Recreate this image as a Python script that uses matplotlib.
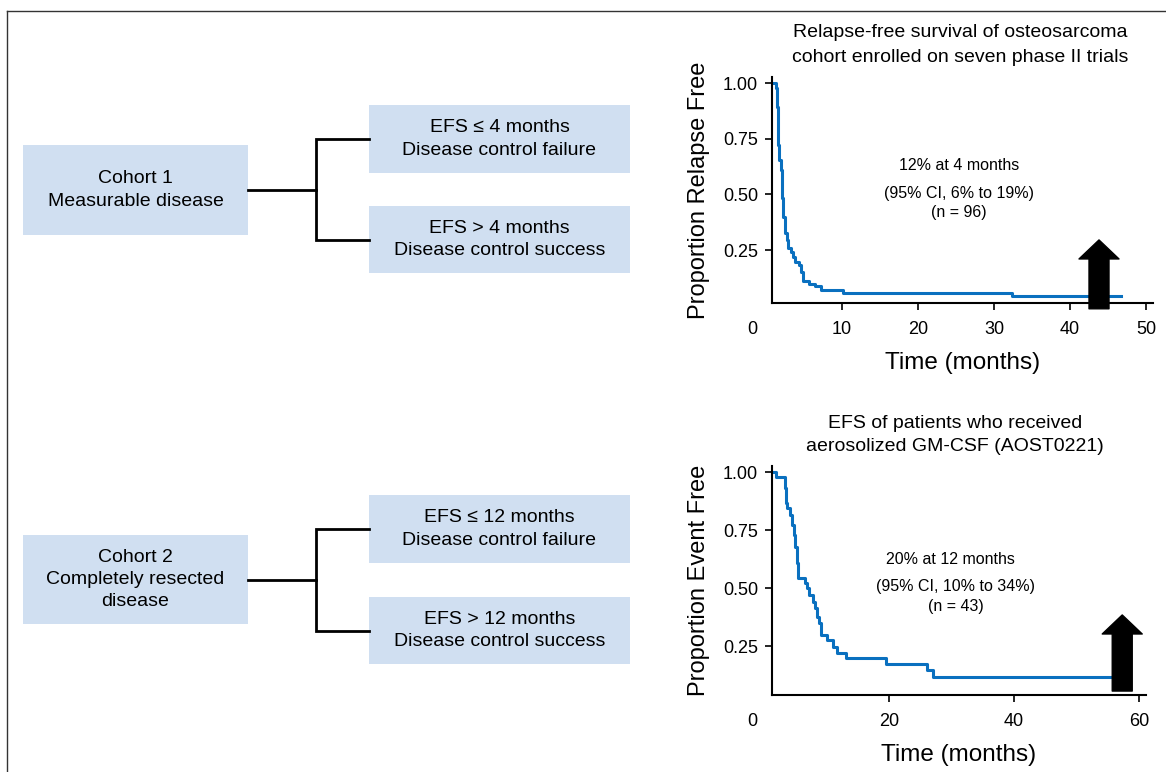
import matplotlib
matplotlib.use("Agg")
import matplotlib.pyplot as plt
from matplotlib.patches import Rectangle

plt.rcParams['font.family'] = ['Liberation Sans', 'DejaVu Sans']

BOX_BLUE = '#d0dff1'
KM_BLUE = '#0a70bf'

# flowchart labels
cohort_labels = ["Cohort 1\nMeasurable disease",
                 "Cohort 2\nCompletely resected\ndisease"]
outcome_labels = [["EFS \u2264 4 months\nDisease control failure",
                   "EFS > 4 months\nDisease control success"],
                  ["EFS \u2264 12 months\nDisease control failure",
                   "EFS > 12 months\nDisease control success"]]

# KM curve, cohort 1 (relapse-free survival, n = 96)
t_top = [0.9, 1.27, 1.4, 1.54, 1.71, 1.93, 2.1, 2.28, 2.45, 2.72, 2.9, 3.25,
         3.5, 3.77, 4.39, 4.65, 4.9, 5.7, 6.45, 7.24, 10.2, 32.3, 46.7]
s_top = [1.0, 0.976, 0.894, 0.722, 0.655, 0.61, 0.484, 0.40, 0.327, 0.296,
         0.26, 0.244, 0.221, 0.199, 0.184, 0.154, 0.113, 0.10, 0.09, 0.072,
         0.057, 0.045, 0.045]

# KM curve, cohort 2 (EFS AOST0221, n = 43)
t_bot = [1.49, 1.87, 3.41, 3.52, 3.73, 4.16, 4.48, 4.8, 5.01, 5.23, 5.49,
         6.56, 6.83, 7.25, 7.79, 8.16, 8.53, 8.85, 9.12, 10.13, 10.99, 11.73,
         13.12, 19.52, 26.13, 27.09, 55.6]
s_bot = [1.0, 0.977, 0.93, 0.866, 0.843, 0.815, 0.772, 0.728, 0.678, 0.606,
         0.542, 0.52, 0.499, 0.47, 0.441, 0.412, 0.376, 0.348, 0.297, 0.276,
         0.247, 0.221, 0.197, 0.172, 0.147, 0.115, 0.115]

titles = ["Relapse-free survival of osteosarcoma\ncohort enrolled on seven phase II trials",
          "EFS of patients who received\naerosolized GM-CSF (AOST0221)"]
ylabels = ["Proportion Relapse Free", "Proportion Event Free"]
headline = ["12% at 4 months", "20% at 12 months"]
ci_text = ["(95% CI, 6% to 19%)\n(n = 96)", "(95% CI, 10% to 34%)\n(n = 43)"]
yticks = [0.25, 0.50, 0.75, 1.00]
xticks = [[10, 20, 30, 40, 50], [20, 40, 60]]
arrow_x = [43.8, 57.3]
arrow_y = [(-0.013, 0.296), (0.056, 0.384)]

fig = plt.figure(figsize=(11.66, 7.72), dpi=100)

# background axes in pixel units for the flowchart
fax = fig.add_axes([0, 0, 1, 1])
fax.set_xlim(0, 1166)
fax.set_ylim(772, 0)
fax.axis('off')

# frame lines (top and left)
fax.plot([7, 1166], [10.5, 10.5], color='#333333', lw=1)
fax.plot([7, 7], [10.5, 772], color='#333333', lw=1)

cohort_y = [(145, 235), (535, 624)]
outcome_y = [[(105, 173), (206, 273)], [(495, 563), (597, 664)]]
for i in range(2):
    y0, y1 = cohort_y[i]
    fax.add_patch(Rectangle((23, y0), 225, y1 - y0, color=BOX_BLUE, lw=0))
    fax.text(135.5, (y0 + y1) / 2, cohort_labels[i], ha='center', va='center',
             fontsize=14, linespacing=1.4)
    yc = (y0 + y1) / 2
    fax.plot([248, 316], [yc, yc], color='black', lw=2)
    mids = []
    for j in range(2):
        b0, b1 = outcome_y[i][j]
        fax.add_patch(Rectangle((369, b0), 261, b1 - b0, color=BOX_BLUE, lw=0))
        fax.text(499.5, (b0 + b1) / 2, outcome_labels[i][j], ha='center',
                 va='center', fontsize=14, linespacing=1.4)
        mids.append((b0 + b1) / 2)
    fax.plot([369, 316, 316, 369], [mids[0], mids[0], mids[1], mids[1]],
             color='black', lw=2, solid_joinstyle='miter')

# titles and annotations
fax.text(960, 45, titles[0], ha='center', va='center', fontsize=14, linespacing=1.6)
fax.text(955, 435, titles[1], ha='center', va='center', fontsize=14, linespacing=1.45)
fax.text(959, 166, headline[0], ha='center', va='center', fontsize=11.5)
fax.text(959, 203, ci_text[0], ha='center', va='center', fontsize=11.5, linespacing=1.4)
fax.text(950, 559, headline[1], ha='center', va='center', fontsize=11.5)
fax.text(956, 596.5, ci_text[1], ha='center', va='center', fontsize=11.5, linespacing=1.4)

# KM axes
axes_pos = [[772 / 1166, 1 - 303 / 772, 381 / 1166, 226 / 772],
            [772 / 1166, 1 - 695 / 772, 374 / 1166, 229 / 772]]
xlims = [(0.8, 50.9), (1.3, 61.1)]
ylims = [(0.013, 1.027), (0.039, 1.026)]
curves = [(t_top, s_top), (t_bot, s_bot)]

for k in range(2):
    ax = fig.add_axes(axes_pos[k])
    ax.patch.set_alpha(0)
    t, s = curves[k]
    ax.step(t, s, where='post', color=KM_BLUE, lw=2.2)
    ax.set_xlim(*xlims[k])
    ax.set_ylim(*ylims[k])
    ax.set_xticks(xticks[k])
    ax.set_yticks(yticks)
    ax.set_yticklabels(["%.2f" % v for v in yticks])
    for side in ['top', 'right']:
        ax.spines[side].set_visible(False)
    for side in ['left', 'bottom']:
        ax.spines[side].set_linewidth(1.5)
    ax.tick_params(axis='x', length=5, width=1.2, labelsize=13, pad=8)
    ax.tick_params(axis='y', length=5, width=1.2, labelsize=13, pad=5)
    ax.set_ylabel(ylabels[k], fontsize=17, labelpad=9)
    ax.set_xlabel("Time (months)", fontsize=17.5, labelpad=10)
    ax.annotate("0", xy=(0, 0), xycoords='axes fraction', xytext=(-20, -26),
                textcoords='offset pixels', ha='center', va='center',
                fontsize=13)
    ax.annotate("", xy=(arrow_x[k], arrow_y[k][1]),
                xytext=(arrow_x[k], arrow_y[k][0]),
                arrowprops=dict(facecolor='black', edgecolor='black', width=14.4,
                                headwidth=28.8, headlength=13.7, shrink=0),
                annotation_clip=False)

fig.savefig("out.png", dpi=100)
